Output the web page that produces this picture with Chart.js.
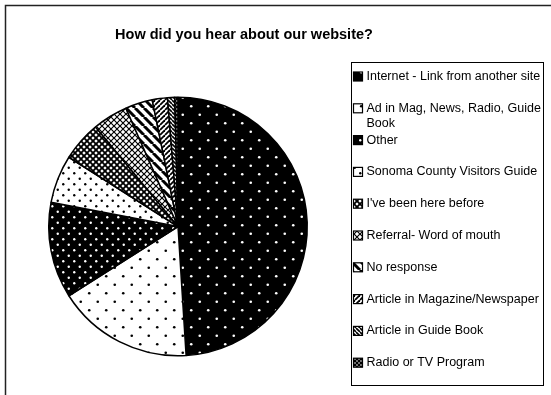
<!DOCTYPE html>
<html>
<head>
<meta charset="utf-8">
<title>Website referral survey</title>
<script src="https://cdn.jsdelivr.net/npm/chart.js@4"></script>
<style>
  html, body { margin: 0; padding: 0; background: #fff; }
  #wrap { position: relative; width: 551px; height: 395px; }
</style>
</head>
<body>
<div id="wrap"><canvas id="sourceChart"></canvas></div>
<script>
// survey answers, in pie order (clockwise from 12 o'clock)
const sources = [
  "Internet - Link from another site",
  "Ad in Mag, News, Radio, Guide Book",
  "Other",
  "Sonoma County Visitors Guide",
  "I've been here before",
  "Referral- Word of mouth",
  "No response",
  "Article in Magazine/Newspaper",
  "Article in Guide Book",
  "Radio or TV Program"
];
// share of responses, percent
const responses = [49, 17, 12, 6, 5, 4.4, 3.4, 1.9, 0.9, 0.4];

const chartTitle = "How did you hear about our website?";

// ---- monochrome fill patterns ----
function makeTile(size, bg, drawFn) {
  const c = document.createElement("canvas");
  c.width = size;
  c.height = size;
  const g = c.getContext("2d");
  g.fillStyle = bg;
  g.fillRect(0, 0, size, size);
  drawFn(g, size);
  return document.createElement("canvas").getContext("2d").createPattern(c, "repeat");
}

function dots(bg, fg, size, r) {
  return makeTile(size, bg, function (g, s) {
    g.fillStyle = fg;
    [[s / 4, s / 4], [s * 3 / 4, s * 3 / 4]].forEach(function (p) {
      g.beginPath();
      g.arc(p[0], p[1], r, 0, Math.PI * 2);
      g.fill();
    });
  });
}

function stripes(size, width, dir) {
  return makeTile(size, "#fff", function (g, s) {
    g.strokeStyle = "#000";
    g.lineWidth = width;
    for (let x0 = -s; x0 <= s; x0 += s) {
      g.beginPath();
      if (dir === "back") {
        g.moveTo(x0, 0);
        g.lineTo(x0 + s, s);
      } else {
        g.moveTo(x0, s);
        g.lineTo(x0 + s, 0);
      }
      g.stroke();
    }
  });
}

function mesh(size, width) {
  return makeTile(size, "#fff", function (g, s) {
    g.strokeStyle = "#000";
    g.lineWidth = width;
    for (let x0 = -s; x0 <= s; x0 += s) {
      g.beginPath();
      g.moveTo(x0, 0);
      g.lineTo(x0 + s, s);
      g.moveTo(x0, s);
      g.lineTo(x0 + s, 0);
      g.stroke();
    }
  });
}

const fills = [
  dots("#000", "#fff", 17, 1.3),
  dots("#fff", "#000", 17, 1.3),
  dots("#000", "#fff", 11, 1.2),
  dots("#fff", "#000", 11, 1.2),
  mesh(6, 1.9),
  mesh(6, 1.2),
  stripes(9, 3, "back"),
  stripes(5, 1.8, "fwd"),
  stripes(4, 1.6, "back"),
  dots("#000", "#fff", 4, 0.8)
];

// ---- frame, title and boxed legend drawn around the pie ----
const decorations = {
  id: "decorations",
  beforeDraw(chart) {
    const ctx = chart.ctx;
    ctx.save();
    ctx.fillStyle = "#fff";
    ctx.fillRect(0, 0, chart.width, chart.height);
    ctx.strokeStyle = "#222";
    ctx.lineWidth = 1.5;
    ctx.beginPath();
    ctx.moveTo(5.5, chart.height + 5);
    ctx.lineTo(5.5, 5.5);
    ctx.lineTo(chart.width + 5, 5.5);
    ctx.stroke();
    ctx.restore();
  },
  afterDraw(chart) {
    const ctx = chart.ctx;
    ctx.save();
    ctx.fillStyle = "#000";
    ctx.font = "bold 14.5px 'Liberation Sans', Arial, sans-serif";
    ctx.textAlign = "center";
    ctx.textBaseline = "middle";
    ctx.fillText(chartTitle, 244, 35);

    const box = { x: 351.5, y: 62.5, w: 192, h: 323 };
    ctx.strokeStyle = "#000";
    ctx.lineWidth = 1;
    ctx.strokeRect(box.x, box.y, box.w, box.h);

    ctx.font = "12.5px 'Liberation Sans', Arial, sans-serif";
    ctx.textAlign = "left";
    const textX = box.x + 15;
    const maxW = box.x + box.w - textX;
    const step = 31.8;
    chart.data.labels.forEach(function (label, i) {
      const y = 76.5 + i * step;
      ctx.fillStyle = fills[i];
      ctx.fillRect(box.x + 2, y - 4.5, 9, 9);
      ctx.strokeStyle = "#000";
      ctx.lineWidth = 1.2;
      ctx.strokeRect(box.x + 2, y - 4.5, 9, 9);
      // wrap long labels onto a second line
      const words = label.split(" ");
      const lines = [];
      let line = "";
      words.forEach(function (w) {
        const test = line ? line + " " + w : w;
        if (ctx.measureText(test).width > maxW && line) {
          lines.push(line);
          line = w;
        } else {
          line = test;
        }
      });
      lines.push(line);
      ctx.fillStyle = "#000";
      lines.forEach(function (t, k) {
        ctx.fillText(t, textX, y + k * 15.5);
      });
    });
    ctx.restore();
  }
};

new Chart(document.getElementById("sourceChart"), {
  type: "pie",
  data: {
    labels: sources,
    datasets: [{
      data: responses,
      backgroundColor: fills,
      borderColor: "#000",
      borderWidth: 1.5
    }]
  },
  options: {
    responsive: true,
    maintainAspectRatio: false,
    animation: false,
    events: [],
    layout: { padding: { left: 48, top: 96, right: 243, bottom: 38 } },
    plugins: {
      legend: { display: false },
      title: { display: false },
      tooltip: { enabled: false }
    }
  },
  plugins: [decorations]
});
</script>
</body>
</html>
